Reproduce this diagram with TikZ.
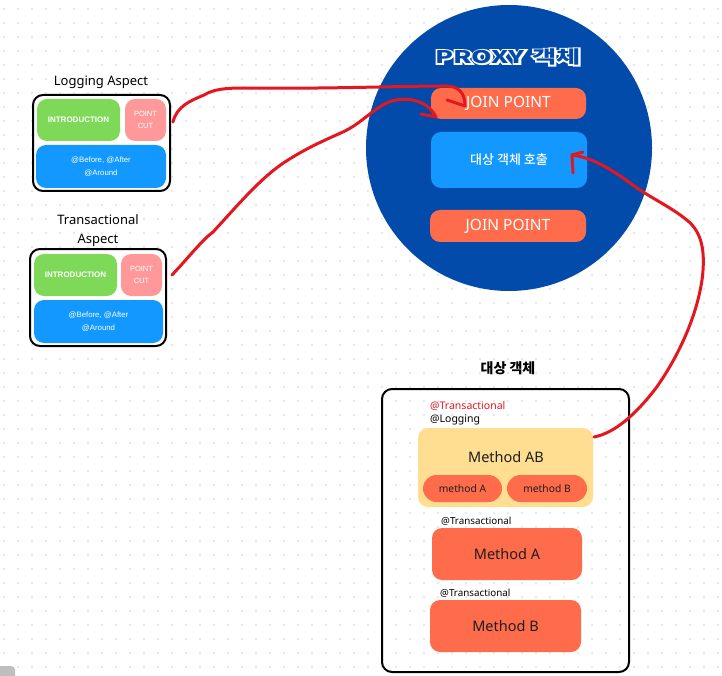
\documentclass[tikz,border=0pt]{standalone}
\usepackage{fontspec}
\usetikzlibrary{calc}
\setmainfont{Noto Sans}
\newfontfamily\labelsans{Liberation Sans}
\newfontfamily\cjk{Noto Sans CJK KR}
\newfontfamily\cjkmed{Noto Sans CJK KR Medium}
\newfontfamily\cjkheavy{Noto Sans CJK KR Black}
\newfontfamily\cjkheavyrim[FakeBold=15]{Noto Sans CJK KR Black}

\definecolor{proxyblue}{RGB}{2,75,171}
\definecolor{joinorange}{RGB}{255,108,76}
\definecolor{callblue}{RGB}{18,152,255}
\definecolor{introgreen}{RGB}{126,217,88}
\definecolor{cutpink}{RGB}{255,153,153}
\definecolor{abyellow}{RGB}{255,222,145}
\definecolor{inkred}{RGB}{228,22,32}
\definecolor{dotgrey}{RGB}{230,232,237}
\definecolor{methodink}{RGB}{30,30,30}
\definecolor{cornergrey}{RGB}{190,190,190}

\newcommand{\proxyword}[1]{\scalebox{1.5}[1]{#1\fontsize{17.5}{17.5}\selectfont PROXY\hspace{5pt}객체}}

\begin{document}
\begin{tikzpicture}[x=1pt,y=-1pt,
  frame/.style={draw=black,line width=2pt,rounded corners=10pt,inner sep=0pt},
  tile/.style={rounded corners=10pt,inner sep=0pt,align=center},
  whitetext/.style={text=white},
  pill/.style={rounded corners=13.5pt,inner sep=0pt,fill=joinorange,text=methodink},
  tag/.style={anchor=west,inner sep=0pt},
  ink/.style={draw=inkred,line width=3pt,line cap=round,line join=round}]

\useasboundingbox (0,0) rectangle (722,676);
\fill[white] (0,0) rectangle (722,676);

% dotted canvas
\foreach \i in {0,...,51}{
  \foreach \j in {0,...,47}{
    \fill[dotgrey] (4+14*\i,9+14*\j) circle (1.4pt);
  }
}
\fill[cornergrey,rounded corners=4pt] (-5,666) rectangle (15,685);

% ---------- Logging aspect ----------
\node[font=\fontsize{13}{15}\selectfont] (logTitle) at (101,82) {Logging Aspect};
\node[frame,fill=white,minimum width=137pt,minimum height=96pt] (logging) at (101.5,143) {};
\node[tile,fill=introgreen,whitetext,minimum width=83pt,minimum height=42pt,
      font=\labelsans\bfseries\fontsize{8}{9}\selectfont] (logIntro) at (78.5,120) {INTRODUCTION};
\node[tile,fill=cutpink,whitetext,minimum width=41pt,minimum height=42pt,
      font=\labelsans\fontsize{7.5}{12.5}\selectfont] (logCut) at (145.5,120) {POINT\\CUT};
\node[tile,fill=callblue,whitetext,minimum width=130pt,minimum height=43pt,
      font=\labelsans\fontsize{7.8}{12.7}\selectfont] (logAdvice) at (101,166.5) {@Before, @After\\@Around};

% ---------- Transactional aspect ----------
\node[font=\fontsize{13}{19}\selectfont,align=center] (txTitle) at (98,230.5) {Transactional\\Aspect};
\node[frame,fill=white,minimum width=136pt,minimum height=97pt] (transactional) at (98,297.5) {};
\node[tile,fill=introgreen,whitetext,minimum width=83pt,minimum height=42pt,
      font=\labelsans\bfseries\fontsize{8}{9}\selectfont] (txIntro) at (75.5,275) {INTRODUCTION};
\node[tile,fill=cutpink,whitetext,minimum width=41pt,minimum height=42pt,
      font=\labelsans\fontsize{7.5}{12.5}\selectfont] (txCut) at (141.5,275) {POINT\\CUT};
\node[tile,fill=callblue,whitetext,minimum width=129pt,minimum height=43pt,
      font=\labelsans\fontsize{7.8}{12.7}\selectfont] (txAdvice) at (98.5,321.5) {@Before, @After\\@Around};

% ---------- Proxy object ----------
\fill[proxyblue] (509,148) circle (143pt);
\node[text=white,inner sep=0pt] (proxyRim) at (508,57) {\proxyword{\cjkheavyrim}};
\node[text=proxyblue,inner sep=0pt] (proxyTitle) at (proxyRim) {\proxyword{\cjkheavy}};

\node[tile,fill=joinorange,whitetext,minimum width=155pt,minimum height=31pt,
      font=\fontsize{15.5}{17}\selectfont] (joinTop) at (508.5,103.5) {JOIN POINT};
\node[tile,fill=callblue,whitetext,minimum width=156pt,minimum height=56pt,
      font=\cjkmed\fontsize{13}{14}\selectfont] (call) at (509,160) {대상 객체 호출};
\node[tile,fill=joinorange,whitetext,minimum width=156pt,minimum height=32pt,
      font=\fontsize{15.5}{17}\selectfont] (joinBottom) at (508,226) {JOIN POINT};

% ---------- Target object ----------
\node[font=\cjk\bfseries\fontsize{14}{16}\selectfont] (targetTitle) at (508,368) {대상 객체};
\node[frame,minimum width=247pt,minimum height=283pt] (target) at (505.5,530.5) {};

\node[tag,text=inkred,font=\fontsize{10.5}{12}\selectfont] (tagTx) at (430,406) {@Transactional};
\node[tag,font=\fontsize{10.5}{12}\selectfont] (tagLog) at (430,420) {@Logging};
\node[tile,fill=abyellow,minimum width=175pt,minimum height=79pt] (methodAB) at (505.5,467.5) {};
\node[text=methodink,font=\fontsize{14.5}{16}\selectfont] (methodABtext) at (506,457) {Method AB};
\node[pill,minimum width=79pt,minimum height=27pt,font=\fontsize{10.3}{12}\selectfont] (innerA) at (462.5,488.5) {method A};
\node[pill,minimum width=80pt,minimum height=27pt,font=\fontsize{10.3}{12}\selectfont] (innerB) at (547,488.5) {method B};

\node[tag,font=\fontsize{9.8}{12}\selectfont] (tagA) at (441,521) {@Transactional};
\node[tile,fill=joinorange,text=methodink,minimum width=150pt,minimum height=52pt,
      font=\fontsize{14.5}{16}\selectfont] (methodA) at (507,554) {Method A};
\node[tag,font=\fontsize{9.8}{12}\selectfont] (tagB) at (440,593) {@Transactional};
\node[tile,fill=joinorange,text=methodink,minimum width=151pt,minimum height=52pt,
      font=\fontsize{14.5}{16}\selectfont] (methodB) at (505.5,626) {Method B};

% ---------- hand-drawn arrows ----------
\coordinate (logOut) at (173,122);
\coordinate (logTip) at (465,106);
\coordinate (txOut) at (172,275);
\coordinate (txTip) at (436,117);
\coordinate (abOut) at (594,437);
\coordinate (callTip) at (572,155);

\draw[ink] (logOut) .. controls (177,106) and (190,101) .. (204,95)
  .. controls (214,89) and (226,88) .. (245,88)
  .. controls (330,89) and (400,86) .. (445,86)
  .. controls (458,86) and (465,92) .. (logTip);
\draw[ink] (logTip) -- ++(-18,-6);

\draw[ink] (txOut) .. controls (190,256) and (202,240) .. (213,232)
  .. controls (238,205) and (262,176) .. (288,160)
  .. controls (310,146) and (330,138) .. (345,131)
  .. controls (365,121) and (378,103) .. (396,100)
  .. controls (413,97) and (429,103) .. (txTip);
\draw[ink] (txTip) -- ++(-15,-3);

\draw[ink] (abOut) .. controls (615,433) and (636,414) .. (656,388)
  .. controls (676,360) and (696,320) .. (702,280)
  .. controls (706,250) and (701,232) .. (688,221)
  .. controls (670,206) and (650,198) .. (630,183)
  .. controls (610,168) and (590,157) .. (callTip);
\draw[ink] (callTip) -- ++(1,18);
\draw[ink] (callTip) -- ++(11,-3);

\end{tikzpicture}
\end{document}
